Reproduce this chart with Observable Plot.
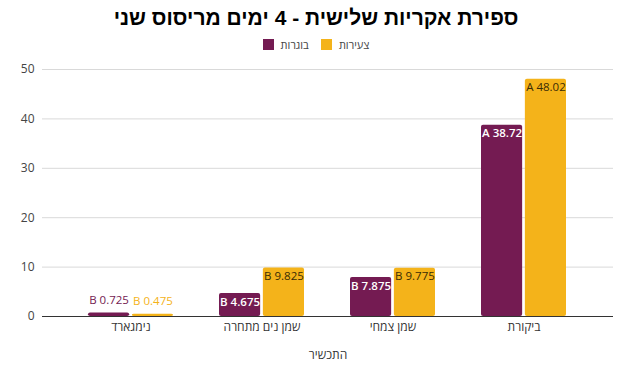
<!DOCTYPE html>
<html>
<head>
<meta charset="utf-8">
<script src="https://cdn.jsdelivr.net/npm/d3@7"></script>
<script src="https://cdn.jsdelivr.net/npm/@observablehq/plot@0.6"></script>
<style>
  html, body { margin: 0; padding: 0; background: #fff; }
  body { width: 632px; height: 370px; overflow: hidden; font-family: "Open Sans", "Noto Sans", sans-serif; }
  #title { text-align: center; font-family: "Liberation Sans", Arial, sans-serif; font-weight: bold; font-size: 21px; color: #000; height: 34px; line-height: 36px; direction: rtl; }
  #legend { display: flex; justify-content: center; gap: 12px; height: 21px; align-items: center; font-size: 11px; color: #444; direction: ltr; }
  .item { display: flex; align-items: center; gap: 7px; }
  .sw { width: 11px; height: 11px; display: inline-block; }
</style>
</head>
<body>
<div id="title">ספירת אקריות שלישית - 4 ימים מריסוס שני</div>
<div id="legend"></div>
<div id="chart"></div>
<script>
const categories = ["נימגארד", "שמן נים מתחרה", "שמן צמחי", "ביקורת"];
const series = ["בוגרות", "צעירות"];
const adults = [0.725, 4.675, 7.875, 38.72];
const young = [0.475, 9.825, 9.775, 48.02];
const letters = ["B", "B", "B", "A"];
const colors = ["#741b52", "#f4b31a"];
const yTicks = [0, 10, 20, 30, 40, 50];
const xTitle = "התכשיר";

const mk = (vals, s) => categories.map((c, i) => ({cat: c, s, v: vals[i], label: letters[i] + " " + vals[i]}));
const dA = mk(adults, series[0]);
const dY = mk(young, series[1]);

// legend
const legend = document.getElementById("legend");
series.forEach((s, i) => {
  const it = document.createElement("span");
  it.className = "item";
  const sw = document.createElement("span");
  sw.className = "sw";
  sw.style.background = colors[i];
  const t = document.createElement("span");
  t.textContent = s;
  it.appendChild(sw); it.appendChild(t);
  legend.appendChild(it);
});

// layout styles
const W = 632, ML = 42, MR = 19, PAD = 0.35;
const step = (W - ML - MR) / (categories.length - PAD + 2 * PAD);
const half = step * (1 - PAD) / 2;
const gap = 1.2;
const off = (half + gap) / 2;

const labelMarks = (d, color, textFill, weight, dx) => [
  Plot.text(d.filter(e => e.v < 2), {x: "cat", y: "v", text: "label", fill: color, lineAnchor: "bottom", dy: -9, dx, fontSize: 11.5}),
  Plot.text(d.filter(e => e.v >= 2), {x: "cat", y: "v", text: "label", fill: textFill, fontWeight: weight, lineAnchor: "top", dy: 4, dx, fontSize: 11.5})
];

const chart = Plot.plot({
  width: W,
  height: 315,
  marginLeft: ML,
  marginRight: MR,
  marginTop: 14,
  marginBottom: 54,
  style: {fontFamily: "'Open Sans', 'Noto Sans', sans-serif", fontSize: "12px", color: "#444"},
  x: {domain: categories, padding: PAD, label: null},
  y: {domain: [0, 50], label: null},
  marks: [
    Plot.gridY(yTicks, {stroke: "#d9d9d9", strokeOpacity: 1}),
    Plot.axisY(yTicks, {tickSize: 0, tickPadding: 8, label: null, fontSize: 12, fill: "#444"}),
    Plot.barY(dA, {x: "cat", y: "v", fill: colors[0], insetRight: half + gap, rx: 2}),
    Plot.barY(dY, {x: "cat", y: "v", fill: colors[1], insetLeft: half + gap, rx: 2}),
    Plot.ruleY([0], {stroke: "#333"}),
    ...labelMarks(dA, colors[0], "#fff", 600, -off),
    ...labelMarks(dY, colors[1], "#3a2c05", 400, off),
    Plot.axisX({tickSize: 0, tickPadding: 6, fontSize: 12, fill: "#333", label: xTitle, labelAnchor: "center", labelOffset: 42})
  ]
});
document.getElementById("chart").appendChild(chart);
</script>
</body>
</html>
